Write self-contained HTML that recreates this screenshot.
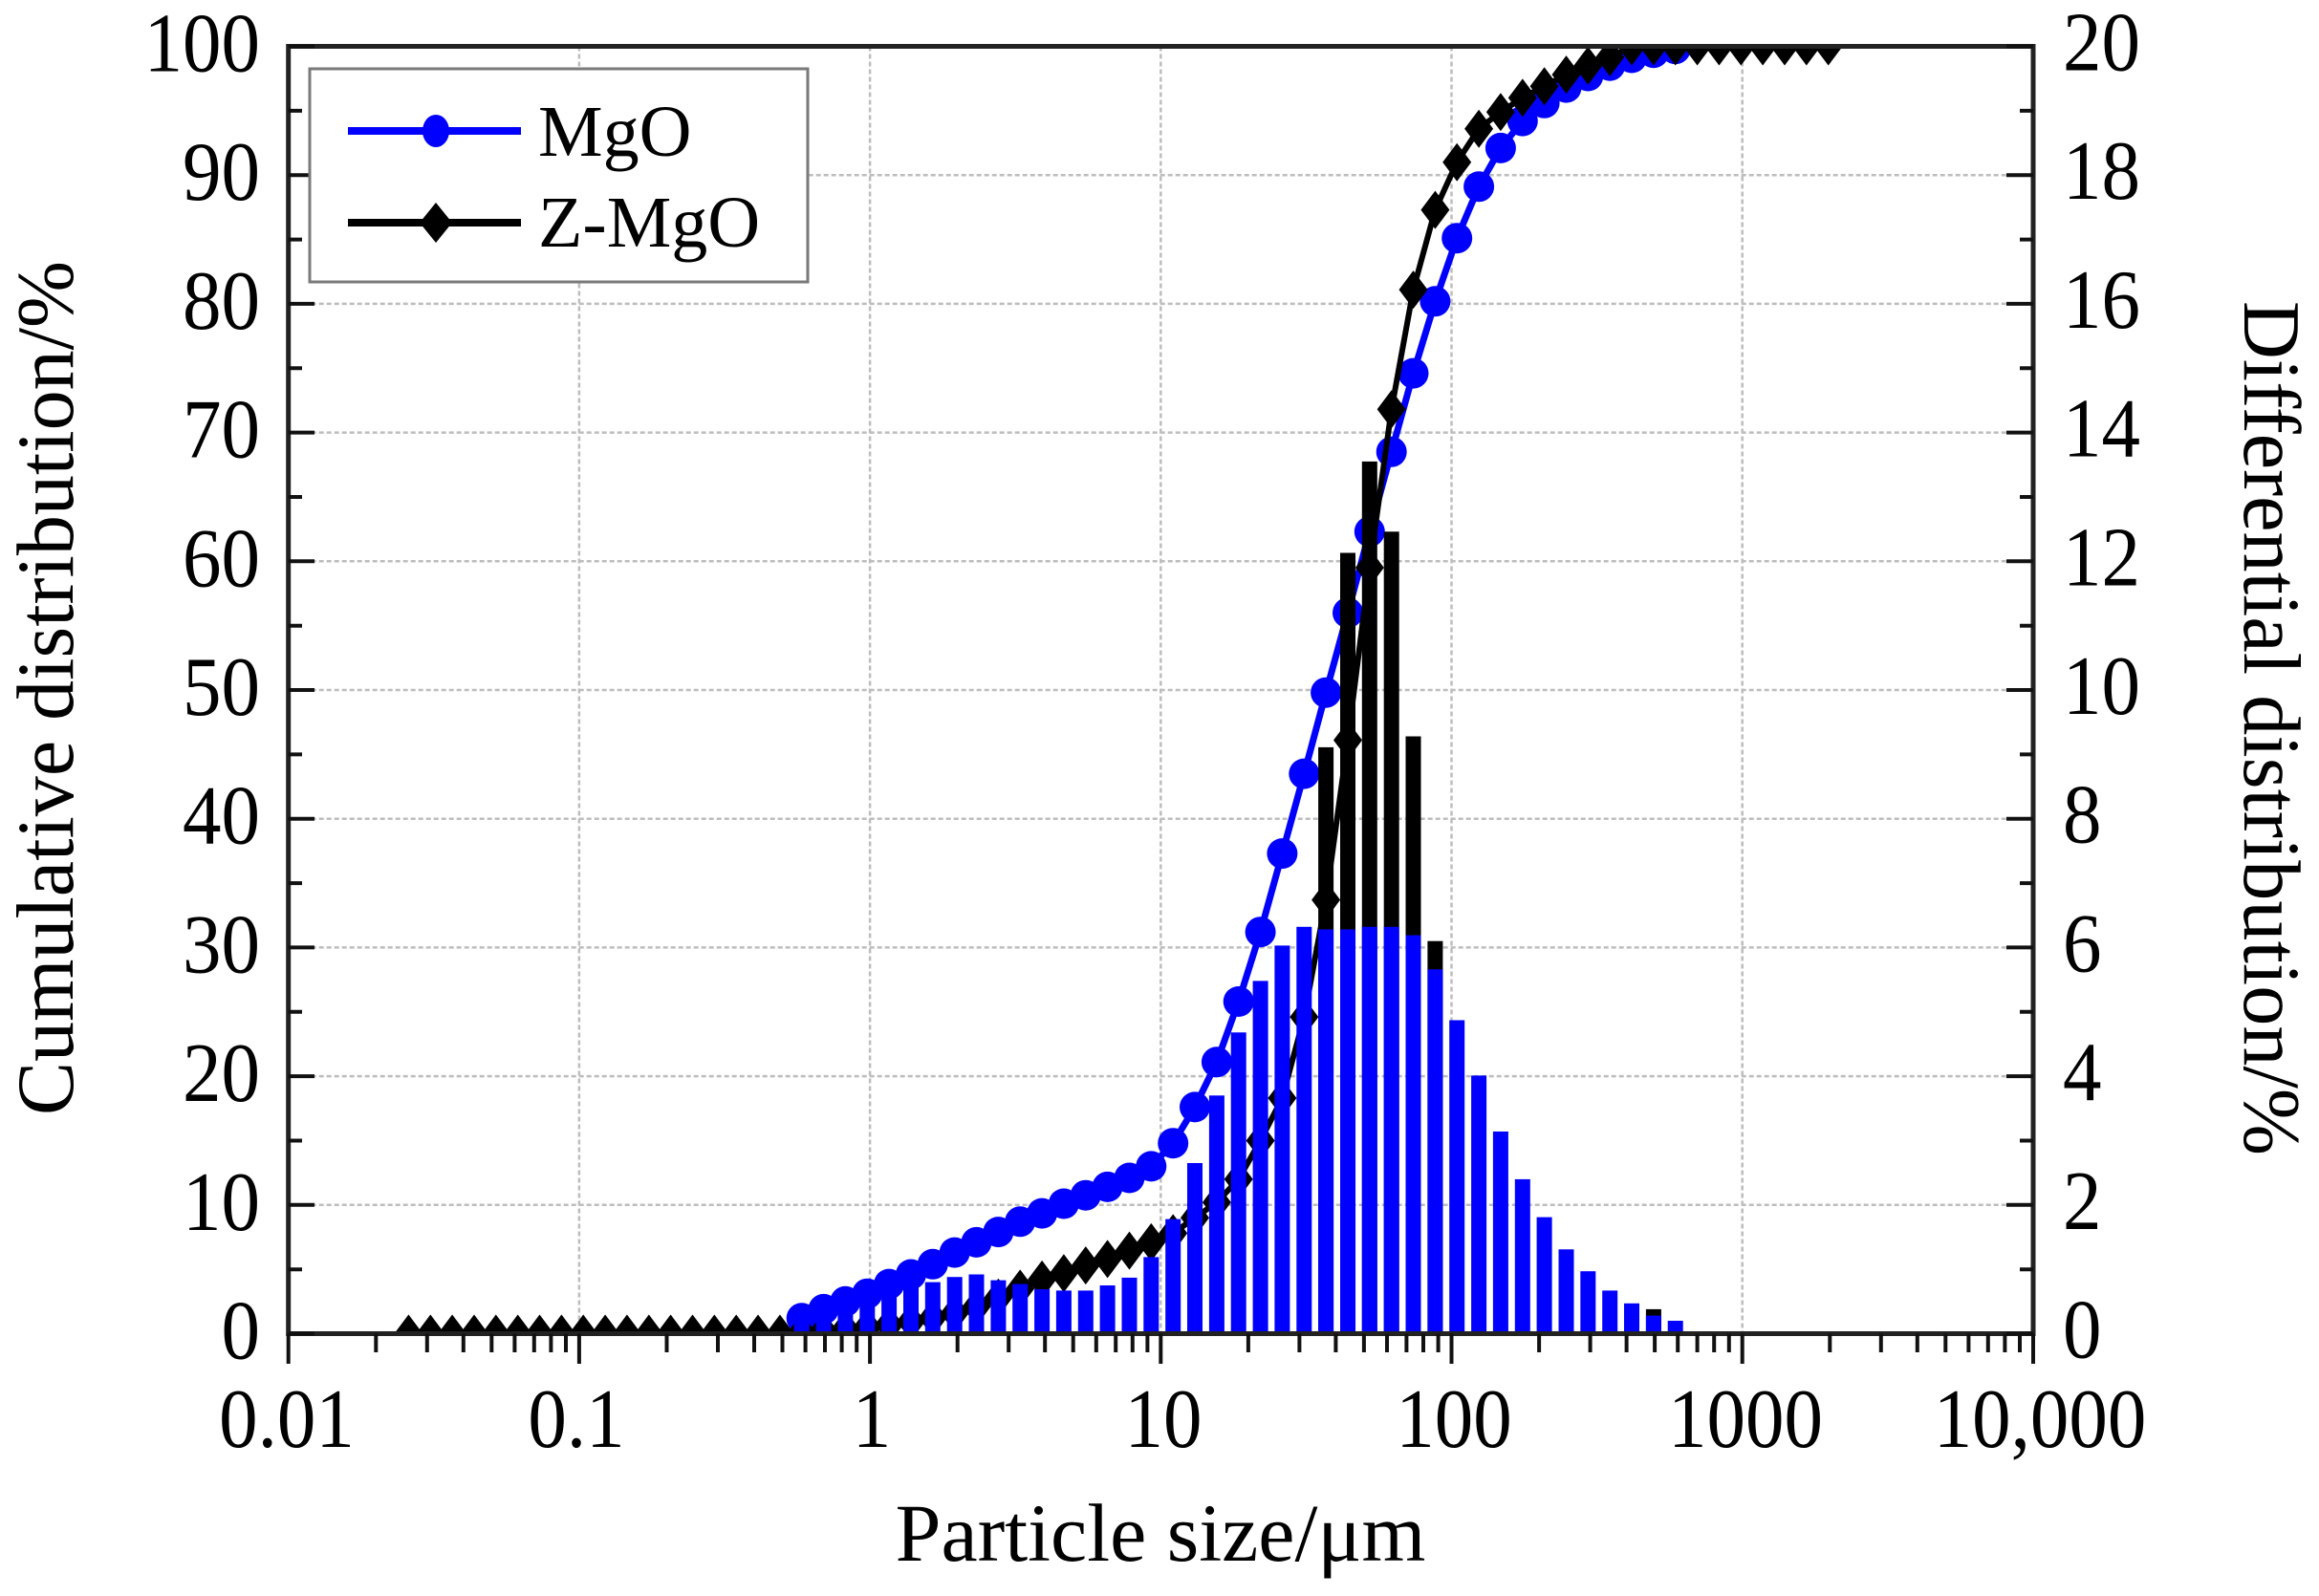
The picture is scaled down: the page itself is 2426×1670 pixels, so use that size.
<!DOCTYPE html>
<html><head><meta charset="utf-8"><style>
html,body{margin:0;padding:0;background:#fff;}
svg{display:block;}
text{font-family:"Liberation Serif","DejaVu Serif",serif;fill:#000;}
</style></head><body>
<svg xmlns="http://www.w3.org/2000/svg" width="2426" height="1670" viewBox="0 0 2426 1670">
<defs>
<clipPath id="pc"><rect x="301.7" y="48.5" width="1825.3" height="1347"/></clipPath>
<circle id="cm" r="16" fill="#0000ff"/>
<path id="dm" d="M0,-20 L15,0 L0,20 L-15,0Z" fill="#000"/>
</defs>
<rect width="2426" height="1670" fill="#fff"/>
<g stroke="#bdbdbd" stroke-width="2.5" stroke-dasharray="5,3" fill="none">
<path d="M605.9,48.5V1395.5M910.1,48.5V1395.5M1214.3,48.5V1395.5M1518.5,48.5V1395.5M1822.7,48.5V1395.5"/>
<path d="M301.7,1260.8H2127M301.7,1126.1H2127M301.7,991.4H2127M301.7,856.7H2127M301.7,722H2127M301.7,587.3H2127M301.7,452.6H2127M301.7,317.9H2127M301.7,183.2H2127"/>
</g>
<g clip-path="url(#pc)">
<polyline fill="none" stroke="#0000ff" stroke-width="7" stroke-linejoin="round" points="838.7,1379.3 861.6,1369.9 884.4,1361.8 907.3,1353.7 930.1,1343.6 953.0,1333.5 975.8,1322.8 998.7,1310.6 1021.5,1299.9 1044.4,1289.1 1067.2,1278.3 1090.1,1269.6 1112.9,1259.5 1135.8,1250.7 1158.6,1241.9 1181.5,1232.5 1204.3,1220.4 1227.2,1196.2 1250.0,1158.4 1272.9,1111.3 1295.7,1048.0 1318.6,975.2 1341.4,893.1 1364.3,809.6 1387.1,724.7 1410.0,641.2 1432.8,556.3 1455.7,472.8 1478.5,390.6 1501.4,315.3 1524.2,249.2 1547.1,195.3 1569.9,154.9 1592.8,126.6 1615.6,107.8 1638.5,91.6 1661.3,79.5 1684.2,68.7 1707.0,60.5 1729.9,55.2 1752.7,51.2"/>
<g>
<use href="#cm" x="838.7" y="1379.3"/><use href="#cm" x="861.6" y="1369.9"/><use href="#cm" x="884.4" y="1361.8"/><use href="#cm" x="907.3" y="1353.7"/><use href="#cm" x="930.1" y="1343.6"/><use href="#cm" x="953.0" y="1333.5"/><use href="#cm" x="975.8" y="1322.8"/><use href="#cm" x="998.7" y="1310.6"/><use href="#cm" x="1021.5" y="1299.9"/><use href="#cm" x="1044.4" y="1289.1"/><use href="#cm" x="1067.2" y="1278.3"/><use href="#cm" x="1090.1" y="1269.6"/><use href="#cm" x="1112.9" y="1259.5"/><use href="#cm" x="1135.8" y="1250.7"/><use href="#cm" x="1158.6" y="1241.9"/><use href="#cm" x="1181.5" y="1232.5"/><use href="#cm" x="1204.3" y="1220.4"/><use href="#cm" x="1227.2" y="1196.2"/><use href="#cm" x="1250.0" y="1158.4"/><use href="#cm" x="1272.9" y="1111.3"/><use href="#cm" x="1295.7" y="1048.0"/><use href="#cm" x="1318.6" y="975.2"/><use href="#cm" x="1341.4" y="893.1"/><use href="#cm" x="1364.3" y="809.6"/><use href="#cm" x="1387.1" y="724.7"/><use href="#cm" x="1410.0" y="641.2"/><use href="#cm" x="1432.8" y="556.3"/><use href="#cm" x="1455.7" y="472.8"/><use href="#cm" x="1478.5" y="390.6"/><use href="#cm" x="1501.4" y="315.3"/><use href="#cm" x="1524.2" y="249.2"/><use href="#cm" x="1547.1" y="195.3"/><use href="#cm" x="1569.9" y="154.9"/><use href="#cm" x="1592.8" y="126.6"/><use href="#cm" x="1615.6" y="107.8"/><use href="#cm" x="1638.5" y="91.6"/><use href="#cm" x="1661.3" y="79.5"/><use href="#cm" x="1684.2" y="68.7"/><use href="#cm" x="1707.0" y="60.5"/><use href="#cm" x="1729.9" y="55.2"/><use href="#cm" x="1752.7" y="51.2"/>
</g>
<polyline fill="none" stroke="#000" stroke-width="6" stroke-linejoin="round" points="427.4,1395.5 815.9,1395.5 838.7,1394.2 861.6,1392.8 884.4,1390.8 907.3,1388.8 930.1,1386.1 953.0,1382.7 975.8,1378.7 998.7,1374.0 1021.5,1367.2 1044.4,1357.8 1067.2,1348.4 1090.1,1338.9 1112.9,1332.2 1135.8,1324.1 1158.6,1317.4 1181.5,1308.6 1204.3,1299.9 1227.2,1290.4 1250.0,1274.3 1272.9,1258.1 1295.7,1233.9 1318.6,1193.5 1341.4,1149.0 1364.3,1064.1 1387.1,941.6 1410.0,774.5 1432.8,594.0 1455.7,428.3 1478.5,303.1 1501.4,219.6 1524.2,169.7 1547.1,134.7 1569.9,117.2 1592.8,102.4 1615.6,90.2 1638.5,78.1 1661.3,68.7 1684.2,59.9 1707.0,48.5 1912.7,48.5"/>
<g>
<use href="#dm" x="427.4" y="1395.5"/><use href="#dm" x="450.3" y="1395.5"/><use href="#dm" x="473.1" y="1395.5"/><use href="#dm" x="496.0" y="1395.5"/><use href="#dm" x="518.8" y="1395.5"/><use href="#dm" x="541.7" y="1395.5"/><use href="#dm" x="564.5" y="1395.5"/><use href="#dm" x="587.4" y="1395.5"/><use href="#dm" x="610.2" y="1395.5"/><use href="#dm" x="633.1" y="1395.5"/><use href="#dm" x="655.9" y="1395.5"/><use href="#dm" x="678.8" y="1395.5"/><use href="#dm" x="701.6" y="1395.5"/><use href="#dm" x="724.5" y="1395.5"/><use href="#dm" x="747.3" y="1395.5"/><use href="#dm" x="770.2" y="1395.5"/><use href="#dm" x="793.0" y="1395.5"/><use href="#dm" x="815.9" y="1395.5"/><use href="#dm" x="838.7" y="1394.2"/><use href="#dm" x="861.6" y="1392.8"/><use href="#dm" x="884.4" y="1390.8"/><use href="#dm" x="907.3" y="1388.8"/><use href="#dm" x="930.1" y="1386.1"/><use href="#dm" x="953.0" y="1382.7"/><use href="#dm" x="975.8" y="1378.7"/><use href="#dm" x="998.7" y="1374.0"/><use href="#dm" x="1021.5" y="1367.2"/><use href="#dm" x="1044.4" y="1357.8"/><use href="#dm" x="1067.2" y="1348.4"/><use href="#dm" x="1090.1" y="1338.9"/><use href="#dm" x="1112.9" y="1332.2"/><use href="#dm" x="1135.8" y="1324.1"/><use href="#dm" x="1158.6" y="1317.4"/><use href="#dm" x="1181.5" y="1308.6"/><use href="#dm" x="1204.3" y="1299.9"/><use href="#dm" x="1227.2" y="1290.4"/><use href="#dm" x="1250.0" y="1274.3"/><use href="#dm" x="1272.9" y="1258.1"/><use href="#dm" x="1295.7" y="1233.9"/><use href="#dm" x="1318.6" y="1193.5"/><use href="#dm" x="1341.4" y="1149.0"/><use href="#dm" x="1364.3" y="1064.1"/><use href="#dm" x="1387.1" y="941.6"/><use href="#dm" x="1410.0" y="774.5"/><use href="#dm" x="1432.8" y="594.0"/><use href="#dm" x="1455.7" y="428.3"/><use href="#dm" x="1478.5" y="303.1"/><use href="#dm" x="1501.4" y="219.6"/><use href="#dm" x="1524.2" y="169.7"/><use href="#dm" x="1547.1" y="134.7"/><use href="#dm" x="1569.9" y="117.2"/><use href="#dm" x="1592.8" y="102.4"/><use href="#dm" x="1615.6" y="90.2"/><use href="#dm" x="1638.5" y="78.1"/><use href="#dm" x="1661.3" y="68.7"/><use href="#dm" x="1684.2" y="59.9"/><use href="#dm" x="1707.0" y="48.5"/><use href="#dm" x="1729.9" y="48.5"/><use href="#dm" x="1752.7" y="48.5"/><use href="#dm" x="1775.6" y="48.5"/><use href="#dm" x="1798.4" y="48.5"/><use href="#dm" x="1821.3" y="48.5"/><use href="#dm" x="1844.1" y="48.5"/><use href="#dm" x="1867.0" y="48.5"/><use href="#dm" x="1889.8" y="48.5"/><use href="#dm" x="1912.7" y="48.5"/>
</g>
<g fill="#000">
<rect x="1379.1" y="781.9" width="16" height="613.6"/>
<rect x="1402.0" y="578.5" width="16" height="817.0"/>
<rect x="1424.8" y="482.9" width="16" height="912.6"/>
<rect x="1447.7" y="556.3" width="16" height="839.2"/>
<rect x="1470.5" y="770.5" width="16" height="625.0"/>
<rect x="1493.4" y="984.7" width="16" height="410.8"/>
<rect x="1721.9" y="1369.9" width="16" height="25.6"/>
</g>
<g fill="#0000ff">
<rect x="830.7" y="1365.2" width="16" height="30.3"/>
<rect x="853.6" y="1358.5" width="16" height="37.0"/>
<rect x="876.4" y="1355.1" width="16" height="40.4"/>
<rect x="899.3" y="1351.7" width="16" height="43.8"/>
<rect x="922.1" y="1348.4" width="16" height="47.1"/>
<rect x="945.0" y="1345.0" width="16" height="50.5"/>
<rect x="967.8" y="1341.6" width="16" height="53.9"/>
<rect x="990.7" y="1336.2" width="16" height="59.3"/>
<rect x="1013.5" y="1333.5" width="16" height="62.0"/>
<rect x="1036.4" y="1339.6" width="16" height="55.9"/>
<rect x="1059.2" y="1343.6" width="16" height="51.9"/>
<rect x="1082.1" y="1349.0" width="16" height="46.5"/>
<rect x="1104.9" y="1350.4" width="16" height="45.1"/>
<rect x="1127.8" y="1350.4" width="16" height="45.1"/>
<rect x="1150.6" y="1345.0" width="16" height="50.5"/>
<rect x="1173.5" y="1336.9" width="16" height="58.6"/>
<rect x="1196.3" y="1315.4" width="16" height="80.1"/>
<rect x="1219.2" y="1275.6" width="16" height="119.9"/>
<rect x="1242.0" y="1217.0" width="16" height="178.5"/>
<rect x="1264.9" y="1146.3" width="16" height="249.2"/>
<rect x="1287.7" y="1080.3" width="16" height="315.2"/>
<rect x="1310.6" y="1026.4" width="16" height="369.1"/>
<rect x="1333.4" y="989.4" width="16" height="406.1"/>
<rect x="1356.3" y="969.8" width="16" height="425.7"/>
<rect x="1379.1" y="972.5" width="16" height="423.0"/>
<rect x="1402.0" y="972.5" width="16" height="423.0"/>
<rect x="1424.8" y="969.8" width="16" height="425.7"/>
<rect x="1447.7" y="969.8" width="16" height="425.7"/>
<rect x="1470.5" y="978.6" width="16" height="416.9"/>
<rect x="1493.4" y="1014.3" width="16" height="381.2"/>
<rect x="1516.2" y="1067.5" width="16" height="328.0"/>
<rect x="1539.1" y="1125.4" width="16" height="270.1"/>
<rect x="1561.9" y="1184.0" width="16" height="211.5"/>
<rect x="1584.8" y="1233.9" width="16" height="161.6"/>
<rect x="1607.6" y="1273.6" width="16" height="121.9"/>
<rect x="1630.5" y="1307.3" width="16" height="88.2"/>
<rect x="1653.3" y="1330.2" width="16" height="65.3"/>
<rect x="1676.2" y="1350.4" width="16" height="45.1"/>
<rect x="1699.0" y="1363.8" width="16" height="31.7"/>
<rect x="1721.9" y="1376.6" width="16" height="18.9"/>
<rect x="1744.7" y="1382.0" width="16" height="13.5"/>
</g>
</g>
<rect x="301.7" y="48.5" width="1825.3" height="1347" fill="none" stroke="#222" stroke-width="5"/>
<g stroke="#111" stroke-width="4" fill="none">
<path d="M301.7,1395.5H329M301.7,1260.8H329M301.7,1126.1H329M301.7,991.4H329M301.7,856.7H329M301.7,722H329M301.7,587.3H329M301.7,452.6H329M301.7,317.9H329M301.7,183.2H329M301.7,48.5H329"/>
<path d="M301.7,1328.2H316M301.7,1193.5H316M301.7,1058.8H316M301.7,924.1H316M301.7,789.4H316M301.7,654.7H316M301.7,520H316M301.7,385.3H316M301.7,250.6H316M301.7,115.9H316"/>
<path d="M2127,1395.5H2099M2127,1260.8H2099M2127,1126.1H2099M2127,991.4H2099M2127,856.7H2099M2127,722H2099M2127,587.3H2099M2127,452.6H2099M2127,317.9H2099M2127,183.2H2099M2127,48.5H2099"/>
<path d="M2127,1328.2H2113M2127,1193.5H2113M2127,1058.8H2113M2127,924.1H2113M2127,789.4H2113M2127,654.7H2113M2127,520H2113M2127,385.3H2113M2127,250.6H2113M2127,115.9H2113"/>
<path d="M301.7,1395.5V1427M605.9,1395.5V1427M910.1,1395.5V1427M1214.3,1395.5V1427M1518.5,1395.5V1427M1822.7,1395.5V1427M2127,1395.5V1427"/>
<path d="M393.3,1395.5V1415M446.8,1395.5V1415M484.8,1395.5V1415M514.3,1395.5V1415M538.4,1395.5V1415M558.8,1395.5V1415M576.4,1395.5V1415M592,1395.5V1415M697.5,1395.5V1415M751,1395.5V1415M789,1395.5V1415M818.5,1395.5V1415M842.6,1395.5V1415M863,1395.5V1415M880.6,1395.5V1415M896.2,1395.5V1415M1001.7,1395.5V1415M1055.2,1395.5V1415M1093.2,1395.5V1415M1122.7,1395.5V1415M1146.8,1395.5V1415M1167.2,1395.5V1415M1184.8,1395.5V1415M1200.4,1395.5V1415M1305.9,1395.5V1415M1359.4,1395.5V1415M1397.4,1395.5V1415M1426.9,1395.5V1415M1451,1395.5V1415M1471.4,1395.5V1415M1489,1395.5V1415M1504.6,1395.5V1415M1610.1,1395.5V1415M1663.6,1395.5V1415M1701.6,1395.5V1415M1731.1,1395.5V1415M1755.2,1395.5V1415M1775.6,1395.5V1415M1793.2,1395.5V1415M1808.8,1395.5V1415M1914.3,1395.5V1415M1967.8,1395.5V1415M2005.8,1395.5V1415M2035.3,1395.5V1415M2059.4,1395.5V1415M2079.8,1395.5V1415M2097.4,1395.5V1415M2113,1395.5V1415"/>
</g>
<rect x="324" y="72" width="521" height="223" fill="#fff" stroke="#7a7a7a" stroke-width="3"/>
<line x1="364" y1="137" x2="545" y2="137" stroke="#0000ff" stroke-width="8"/>
<ellipse cx="456" cy="137" rx="14" ry="17" fill="#0000ff"/>
<line x1="364" y1="233" x2="545" y2="233" stroke="#000" stroke-width="8"/>
<path d="M456,212 L473,233 L456,254 L439,233Z" fill="#000"/>
<text x="563" y="163" font-size="76">MgO</text>
<text x="563" y="258" font-size="76">Z-MgO</text>
<g font-size="88" text-anchor="end">
<text x="272" y="74.5" textLength="121.4" lengthAdjust="spacingAndGlyphs">100</text>
<text x="272" y="209.2" textLength="81" lengthAdjust="spacingAndGlyphs">90</text>
<text x="272" y="343.9" textLength="81" lengthAdjust="spacingAndGlyphs">80</text>
<text x="272" y="478.6" textLength="81" lengthAdjust="spacingAndGlyphs">70</text>
<text x="272" y="613.3" textLength="81" lengthAdjust="spacingAndGlyphs">60</text>
<text x="272" y="748" textLength="81" lengthAdjust="spacingAndGlyphs">50</text>
<text x="272" y="882.7" textLength="81" lengthAdjust="spacingAndGlyphs">40</text>
<text x="272" y="1017.4" textLength="81" lengthAdjust="spacingAndGlyphs">30</text>
<text x="272" y="1152.1" textLength="81" lengthAdjust="spacingAndGlyphs">20</text>
<text x="272" y="1286.8" textLength="81" lengthAdjust="spacingAndGlyphs">10</text>
<text x="272" y="1421.5" textLength="40.5" lengthAdjust="spacingAndGlyphs">0</text>
</g>
<g font-size="88" text-anchor="start">
<text x="2158" y="73.5" textLength="81" lengthAdjust="spacingAndGlyphs">20</text>
<text x="2158" y="208.2" textLength="81" lengthAdjust="spacingAndGlyphs">18</text>
<text x="2158" y="342.9" textLength="81" lengthAdjust="spacingAndGlyphs">16</text>
<text x="2158" y="477.6" textLength="81" lengthAdjust="spacingAndGlyphs">14</text>
<text x="2158" y="612.3" textLength="81" lengthAdjust="spacingAndGlyphs">12</text>
<text x="2158" y="747" textLength="81" lengthAdjust="spacingAndGlyphs">10</text>
<text x="2158" y="881.7" textLength="40.5" lengthAdjust="spacingAndGlyphs">8</text>
<text x="2158" y="1016.4" textLength="40.5" lengthAdjust="spacingAndGlyphs">6</text>
<text x="2158" y="1151.1" textLength="40.5" lengthAdjust="spacingAndGlyphs">4</text>
<text x="2158" y="1285.8" textLength="40.5" lengthAdjust="spacingAndGlyphs">2</text>
<text x="2158" y="1420.5" textLength="40.5" lengthAdjust="spacingAndGlyphs">0</text>
</g>
<g font-size="88" text-anchor="middle">
<text x="300" y="1514" textLength="141.7" lengthAdjust="spacingAndGlyphs">0.01</text>
<text x="603" y="1514" textLength="101.2" lengthAdjust="spacingAndGlyphs">0.1</text>
<text x="912" y="1514" textLength="40.5" lengthAdjust="spacingAndGlyphs">1</text>
<text x="1217" y="1514" textLength="81" lengthAdjust="spacingAndGlyphs">10</text>
<text x="1521" y="1514" textLength="121.4" lengthAdjust="spacingAndGlyphs">100</text>
<text x="1826" y="1514" textLength="161.9" lengthAdjust="spacingAndGlyphs">1000</text>
<text x="2134" y="1514" textLength="222.6" lengthAdjust="spacingAndGlyphs">10,000</text>
</g>
<text x="1214" y="1633" font-size="86" text-anchor="middle">Particle size/μm</text>
<text transform="translate(76,720) rotate(-90)" font-size="85" text-anchor="middle" textLength="894" lengthAdjust="spacingAndGlyphs">Cumulative distribution/%</text>
<text transform="translate(2348,762) rotate(90)" font-size="85" text-anchor="middle" textLength="894" lengthAdjust="spacingAndGlyphs">Differential distribution/%</text>
</svg>
</body></html>
